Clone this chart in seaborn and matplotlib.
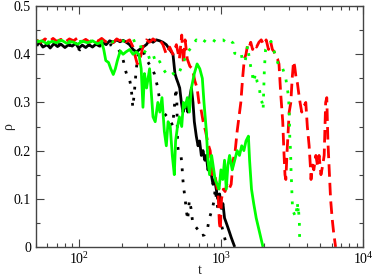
import matplotlib
matplotlib.use("Agg")
import matplotlib.pyplot as plt
import matplotlib.ticker as mticker
import numpy as np
import pandas as pd
import seaborn as sns

# black solid run
t_black = [50, 53, 56, 60, 63, 67, 71, 75, 80, 85, 90, 95, 100, 106, 112, 118, 125, 132, 140,
           148, 156, 165, 175, 185, 195, 205, 216, 228, 241, 254, 268, 283, 299, 315, 333, 351,
           371, 391, 413, 436, 460, 475, 486, 500, 513, 527, 541, 556, 571, 585, 603, 620, 636,
           650, 671, 690, 708, 728, 748, 770, 789, 810, 832, 856, 879, 903, 927, 950, 979, 1005,
           1033, 1060, 1090, 1120, 1150, 1180, 1214, 1250]
rho_black = [0.418, 0.425, 0.415, 0.42, 0.413, 0.422, 0.416, 0.421, 0.414, 0.42, 0.417, 0.423,
             0.413, 0.419, 0.414, 0.42, 0.415, 0.421, 0.417, 0.424, 0.42, 0.428, 0.425, 0.43,
             0.426, 0.429, 0.425, 0.42, 0.41, 0.405, 0.41, 0.415, 0.42, 0.43, 0.425, 0.43, 0.428,
             0.425, 0.42, 0.41, 0.40, 0.36, 0.35, 0.34, 0.33, 0.30, 0.28, 0.29, 0.30, 0.28, 0.31,
             0.33, 0.30, 0.26, 0.23, 0.21, 0.22, 0.19, 0.20, 0.18, 0.19, 0.16, 0.17, 0.15, 0.13,
             0.14, 0.12, 0.10, 0.11, 0.08, 0.09, 0.06, 0.05, 0.04, 0.03, 0.02, 0.01, 0.0]

# black dotted run
t_black_dot = [50, 60, 70, 80, 90, 102, 115, 130, 150, 170, 190, 200, 207, 215, 222, 228, 234,
               237, 240, 246, 254, 262, 275, 290, 305, 320, 340, 360, 380, 400, 420, 433, 458,
               470, 483, 490, 496, 505, 525, 533, 538, 547, 560, 569, 583, 600, 616, 632, 650,
               697, 724, 764, 806, 828, 872, 899, 910, 950, 1000, 1040, 1080]
rho_black_dot = [0.42, 0.418, 0.422, 0.416, 0.42, 0.409, 0.418, 0.42, 0.416, 0.42, 0.41, 0.40,
                 0.384, 0.363, 0.35, 0.347, 0.33, 0.31, 0.29, 0.32, 0.37, 0.40, 0.41, 0.40,
                 0.385, 0.375, 0.36, 0.33, 0.283, 0.277, 0.27, 0.266, 0.252, 0.29, 0.33, 0.30,
                 0.211, 0.194, 0.187, 0.166, 0.145, 0.123, 0.10, 0.08, 0.056, 0.097, 0.08, 0.052,
                 0.045, 0.034, 0.023, 0.025, 0.039, 0.059, 0.08, 0.10, 0.121, 0.08, 0.05, 0.03,
                 0.01]

# red dashed run
t_red = [50, 54, 58, 62, 66, 70, 75, 80, 86, 92, 98, 105, 112, 120, 128, 136, 145, 155, 165,
         175, 185, 195, 205, 215, 228, 241, 250, 258, 266, 275, 285, 299, 315, 333, 351, 371,
         391, 413, 436, 460, 486, 510, 530, 545, 560, 580, 605, 630, 655, 680, 700, 720, 750,
         780, 810, 840, 870, 900, 930, 955, 975, 990, 1010, 1040, 1070, 1100, 1140, 1180, 1220,
         1260, 1300, 1340, 1380, 1420, 1460, 1500, 1540, 1580, 1620, 1670, 1720, 1780, 1850,
         1920, 2000, 2080, 2160, 2240, 2300, 2370, 2430, 2500, 2560, 2630, 2720, 2770, 2820,
         2860, 2920, 2980, 3020, 3100, 3170, 3240, 3300, 3380, 3450, 3520, 3600, 3700, 3800,
         3950, 4050, 4170, 4250, 4300, 4400, 4500, 4650, 4770, 4900, 5050, 5200, 5320, 5450,
         5550, 5650, 5750, 5900, 6050, 6200, 6400]
rho_red = [0.43, 0.425, 0.432, 0.426, 0.433, 0.427, 0.431, 0.425, 0.432, 0.428, 0.434, 0.426,
           0.431, 0.425, 0.432, 0.427, 0.433, 0.426, 0.43, 0.424, 0.432, 0.428, 0.433, 0.426,
           0.43, 0.415, 0.395, 0.38, 0.385, 0.40, 0.42, 0.43, 0.425, 0.432, 0.427, 0.43, 0.42,
           0.40, 0.415, 0.40, 0.42, 0.39, 0.44, 0.38, 0.43, 0.39, 0.375, 0.37, 0.345, 0.33,
           0.30, 0.29, 0.26, 0.24, 0.215, 0.20, 0.15, 0.155, 0.13, 0.11, 0.05, 0.035, 0.10,
           0.12, 0.115, 0.13, 0.12, 0.13, 0.18, 0.20, 0.24, 0.27, 0.30, 0.35, 0.39, 0.40, 0.42,
           0.415, 0.425, 0.41, 0.42, 0.415, 0.425, 0.43, 0.42, 0.43, 0.41, 0.425, 0.41, 0.405,
           0.395, 0.39, 0.38, 0.32, 0.26, 0.20, 0.15, 0.14, 0.20, 0.25, 0.28, 0.30, 0.35, 0.385,
           0.375, 0.35, 0.34, 0.32, 0.30, 0.28, 0.29, 0.30, 0.25, 0.21, 0.17, 0.14, 0.17, 0.16,
           0.19, 0.17, 0.19, 0.15, 0.17, 0.19, 0.30, 0.31, 0.22, 0.17, 0.10, 0.06, 0.03, 0.0]

# green solid run
t_green = [50, 55, 60, 65, 70, 76, 82, 90, 98, 107, 115, 125, 135, 145, 150, 155, 162, 168,
           175, 181, 187, 196, 205, 215, 228, 241, 254, 265, 275, 283, 290, 300, 315, 333, 345,
           360, 372, 385, 400, 413, 425, 440, 455, 470, 480, 495, 510, 530, 545, 560, 580, 600,
           620, 650, 680, 710, 740, 760, 790, 810, 832, 860, 880, 910, 940, 970, 1000, 1030,
           1060, 1090, 1120, 1150, 1200, 1250, 1300, 1350, 1400, 1450, 1500, 1560, 1590, 1640,
           1700, 1770, 1870, 1975]
rho_green = [0.425, 0.428, 0.422, 0.427, 0.424, 0.429, 0.423, 0.426, 0.421, 0.427, 0.424, 0.428,
             0.422, 0.425, 0.41, 0.387, 0.383, 0.37, 0.358, 0.37, 0.387, 0.407, 0.40, 0.405,
             0.41, 0.40, 0.405, 0.40, 0.37, 0.29, 0.36, 0.33, 0.37, 0.27, 0.26, 0.30, 0.28, 0.31,
             0.24, 0.21, 0.26, 0.25, 0.19, 0.15, 0.22, 0.25, 0.27, 0.25, 0.30, 0.29, 0.31, 0.28,
             0.33, 0.36, 0.38, 0.37, 0.35, 0.30, 0.24, 0.18, 0.15, 0.19, 0.17, 0.14, 0.13, 0.12,
             0.16, 0.14, 0.18, 0.12, 0.17, 0.19, 0.16, 0.18, 0.20, 0.19, 0.21, 0.20, 0.22, 0.23,
             0.18, 0.12, 0.09, 0.06, 0.03, 0.0]

# green dotted run
t_green_dot = [50, 60, 70, 80, 90, 100, 115, 130, 150, 170, 190, 210, 230, 254, 268, 283, 300,
               315, 333, 351, 371, 391, 413, 436, 460, 486, 513, 541, 571, 603, 636, 671, 708,
               748, 789, 832, 879, 927, 979, 1033, 1090, 1150, 1220, 1250, 1300, 1385, 1420,
               1480, 1540, 1590, 1650, 1700, 1750, 1800, 1860, 1880, 1900, 1950, 1980, 2020,
               2040, 2060, 2150, 2250, 2400, 2570, 2700, 2850, 2920, 2990, 3010, 3030, 3050,
               3080, 3100, 3110, 3130, 3150, 3170, 3190, 3360, 3450, 3480, 3500, 3560, 3570,
               3580]
rho_green_dot = [0.428, 0.425, 0.43, 0.424, 0.428, 0.426, 0.43, 0.424, 0.428, 0.425, 0.43, 0.427,
                 0.425, 0.43, 0.425, 0.40, 0.41, 0.39, 0.40, 0.38, 0.385, 0.37, 0.36, 0.355,
                 0.36, 0.355, 0.365, 0.38, 0.40, 0.41, 0.42, 0.43, 0.425, 0.43, 0.425, 0.43,
                 0.43, 0.425, 0.43, 0.43, 0.425, 0.43, 0.423, 0.402, 0.40, 0.404, 0.384, 0.385,
                 0.418, 0.387, 0.362, 0.342, 0.36, 0.342, 0.332, 0.32, 0.305, 0.30, 0.285, 0.368,
                 0.39, 0.41, 0.42, 0.427, 0.40, 0.373, 0.373, 0.352, 0.332, 0.311, 0.29, 0.27,
                 0.225, 0.204, 0.18, 0.161, 0.14, 0.118, 0.097, 0.076, 0.062, 0.093, 0.07, 0.085,
                 0.05, 0.029, 0.008]

sns.set_style("ticks")
plt.rcParams['font.family'] = ['Liberation Serif', 'DejaVu Serif']
plt.rcParams['mathtext.fontset'] = 'stix'

fig = plt.figure(figsize=(3.74, 2.79), dpi=100)
ax = fig.add_axes([0.096, 0.115, 0.875, 0.863])
ax.set_xscale('log')

lw = 2.0
runs = [
    (t_black, rho_black, 'black', '-'),
    (t_black_dot, rho_black_dot, 'black', (0, (1, 3))),
    (t_red, rho_red, '#ff0000', (0, (4.5, 2.2))),
    (t_green, rho_green, '#00ff00', '-'),
    (t_green_dot, rho_green_dot, '#00ff00', (0, (1, 3))),
]
for t, rho, col, ls in runs:
    sns.lineplot(x=t, y=rho, ax=ax, color=col, linewidth=lw, linestyle=ls,
                 sort=False, estimator=None, solid_capstyle='butt', dash_capstyle='butt')

ax.set_xlim(50, 1e4)
ax.set_ylim(0, 0.5)
ax.yaxis.set_major_locator(mticker.MultipleLocator(0.1))
ax.yaxis.set_minor_locator(mticker.MultipleLocator(0.05))
ax.yaxis.set_major_formatter(mticker.FuncFormatter(lambda v, p: '0' if abs(v) < 1e-9 else f'{v:.1f}'))
ax.xaxis.set_major_locator(mticker.LogLocator(base=10))
ax.xaxis.set_minor_locator(mticker.LogLocator(base=10, subs=np.arange(2, 10)))
ax.xaxis.set_minor_formatter(mticker.NullFormatter())

ax.tick_params(which='both', direction='in', top=True, right=True, colors='#444444',
               labelcolor='black', labelsize=10, width=0.8)
ax.tick_params(which='major', length=6)
ax.tick_params(which='minor', length=3)
ax.tick_params(axis='x', pad=3)
for s in ax.spines.values():
    s.set_color('#444444')
    s.set_linewidth(1.0)

ax.set_xlabel('t', fontsize=10)
ax.set_ylabel('ρ', fontsize=10)
ax.xaxis.set_label_coords(0.5, -0.07)
ax.yaxis.set_label_coords(-0.065, 0.5)

fig.savefig('out.png', dpi=100)
